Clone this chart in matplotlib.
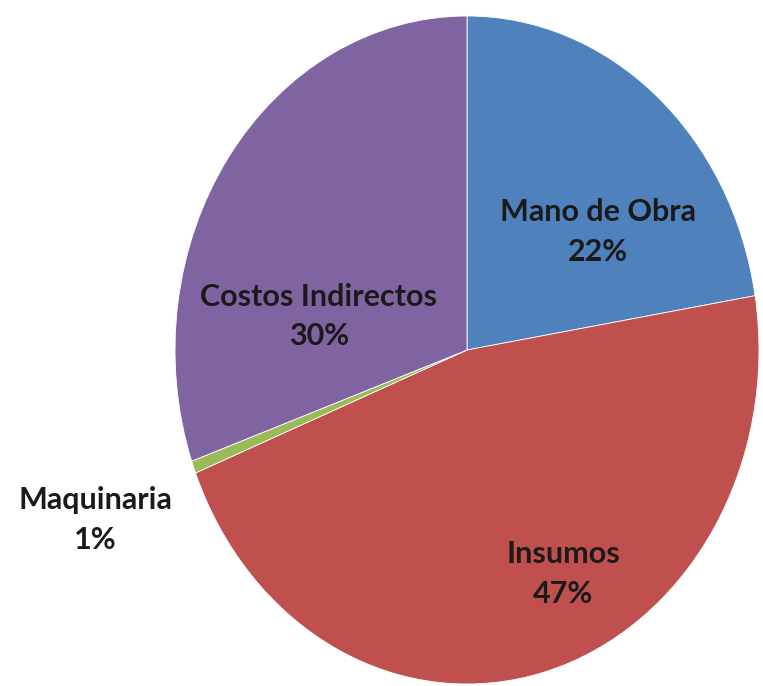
import matplotlib
matplotlib.use("Agg")
import matplotlib.pyplot as plt

# ── Datos ────────────────────────────────────────────────
categories = ["Mano de Obra", "Insumos", "Maquinaria", "Costos Indirectos"]
values     = [22.4, 46.6, 0.6, 30.4]
colors     = ["#4F81BD", "#C0504D", "#9BBB59", "#8064A2"]

# posiciones de etiquetas (coordenadas del eje, pie de radio 1)
label_pos = [(0.449, 0.353), (0.329, -0.671), (-1.274, -0.509), (-0.507, 0.100)]

fig = plt.figure(figsize=(7.63, 6.86), dpi=100)
# el pie original está estirado verticalmente -> eje sin aspecto fijo
ax = fig.add_axes([175 / 763, 2 / 686, 584 / 763, 668 / 686])
ax.pie(values, colors=colors, startangle=90, counterclock=False,
       radius=1, wedgeprops=dict(edgecolor="white", linewidth=0.6))
ax.set_aspect("auto")
ax.set_xlim(-1, 1)
ax.set_ylim(-1, 1)
ax.axis("off")

for name, v, (x, y) in zip(categories, values, label_pos):
    ax.text(x, y, f"{name}\n{round(v)}%", ha="center", va="center",
            fontsize=22, fontfamily="Lato", fontweight="bold",
            color="#1a1a1a", linespacing=1.5, clip_on=False)

fig.savefig("out.png", dpi=100, facecolor="white")
